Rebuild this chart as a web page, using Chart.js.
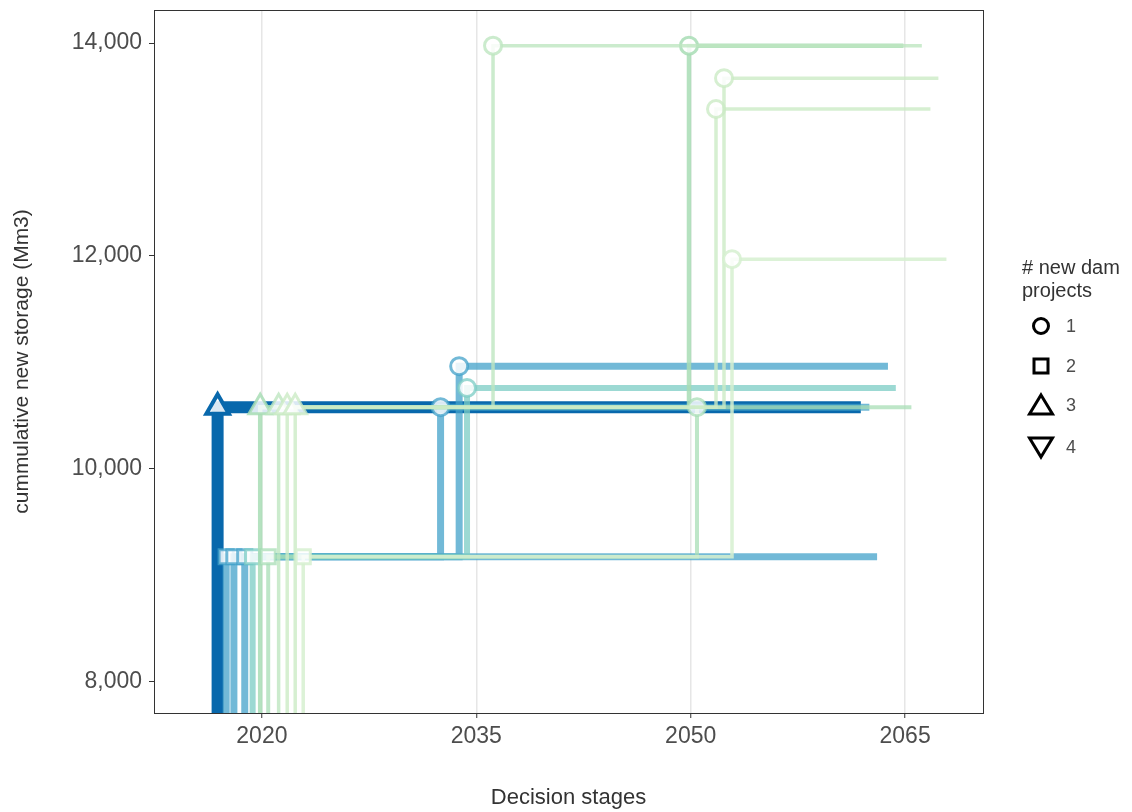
<!DOCTYPE html>
<html>
<head>
<meta charset="utf-8">
<script src="https://cdn.jsdelivr.net/npm/chart.js@4/dist/chart.umd.min.js"></script>
<style>
  html, body { margin: 0; padding: 0; background: #ffffff; }
  #wrap { width: 1132px; height: 812px; }
</style>
</head>
<body>
<div id="wrap"><canvas id="stagesChart" width="1132" height="812"></canvas></div>
<script>
// Decision stages and tick labels
const stages = [2020, 2035, 2050, 2065];
const xTicks = [2020, 2035, 2050, 2065];
const yTicks = [8000, 10000, 12000, 14000];

// Storage before the first stage (off the bottom of the axis)
const startStorage = 7000;

// One entry per pathway: shift along the stage axis (years)
const pathShift = [-3.1, -2.5, -1.96, -1.2, -0.65, -0.12, 0.44, 1.17, 1.77, 2.33, 2.89];

// Cumulative new storage (Mm3) reached at stages 2020, 2035, 2050
const pathStorage = [
    [10580, 10580, 10580],
    [9175, 10580, 10580],
    [9175, 9175, 9175],
    [9175, 10965, 10965],
    [9175, 10760, 10760],
    [10580, 10580, 13975],
    [9175, 9175, 10580],
    [10580, 13975, 13975],
    [10580, 10580, 13380],
    [10580, 10580, 13670],
    [9175, 9175, 11970]
];

// Number of new dam projects built at stages 2020, 2035, 2050
const pathNewDams = [
    [3, 0, 0],
    [2, 1, 0],
    [2, 0, 0],
    [2, 1, 0],
    [2, 1, 0],
    [3, 0, 1],
    [2, 0, 1],
    [3, 1, 0],
    [3, 0, 1],
    [3, 0, 1],
    [2, 0, 1]
];

// Legend entries
const damCounts = ['1', '2', '3', '4'];

// Line styles per pathway
const pathColors = [
    '#0868ac',
    'rgba(67,162,202,0.75)',
    'rgba(67,162,202,0.75)',
    'rgba(67,162,202,0.75)',
    'rgba(123,204,196,0.75)',
    'rgba(168,221,181,0.85)',
    'rgba(168,221,181,0.75)',
    'rgba(190,230,192,0.8)',
    'rgba(204,235,197,0.8)',
    'rgba(204,235,197,0.8)',
    'rgba(214,240,208,0.85)'
];
const pathWidths = [12, 7, 7, 7, 6, 4.5, 4, 3.5, 3.5, 3.5, 3.5];

const FONT = '"Liberation Sans", Arial, sans-serif';
const markerStyle = { 1: 'circle', 2: 'rect', 3: 'triangle', 4: 'triangle' };
const markerRadius = { 1: 8.5, 2: 10, 3: 13, 4: 13 };

// Turn a pathway into step points (horizontal then vertical)
function buildPath(p) {
    const shift = pathShift[p];
    const vals = pathStorage[p];
    const dams = pathNewDams[p];
    const pts = [{ x: stages[0] + shift, y: startStorage, dams: 0 }];
    let prev = startStorage;
    for (let i = 0; i < vals.length; i++) {
        if (dams[i] > 0) {
            if (i > 0) pts.push({ x: stages[i] + shift, y: prev, dams: 0 });
            pts.push({ x: stages[i] + shift, y: vals[i], dams: dams[i] });
        }
        prev = vals[i];
    }
    pts.push({ x: stages[stages.length - 1] + shift, y: prev, dams: 0 });
    return pts;
}

const datasets = pathStorage.map((_, p) => {
    const pts = buildPath(p);
    return {
        data: pts,
        showLine: true,
        order: pathStorage.length - p,
        clip: 0,
        borderColor: pathColors[p],
        borderWidth: pathWidths[p],
        borderCapStyle: 'butt',
        borderJoinStyle: 'miter',
        pointBorderColor: pathColors[p],
        pointBackgroundColor: 'rgba(255,255,255,0.85)',
        pointBorderWidth: p === 0 ? 4 : 3,
        pointRadius: ctx => pts[ctx.dataIndex] && pts[ctx.dataIndex].dams ? markerRadius[pts[ctx.dataIndex].dams] : 0,
        pointStyle: ctx => pts[ctx.dataIndex] && pts[ctx.dataIndex].dams ? markerStyle[pts[ctx.dataIndex].dams] : 'circle',
        pointRotation: ctx => pts[ctx.dataIndex] && pts[ctx.dataIndex].dams === 4 ? 180 : 0
    };
});

// Panel border around the plotting area
const panelBox = {
    id: 'panelBox',
    afterDatasetsDraw(chart) {
        const { ctx, chartArea: a } = chart;
        ctx.save();
        ctx.strokeStyle = '#333333';
        ctx.lineWidth = 1;
        ctx.strokeRect(a.left + 0.5, a.top + 0.5, a.right - a.left, a.bottom - a.top);
        ctx.restore();
    }
};

// Shape legend on the right
const shapeLegend = {
    id: 'shapeLegend',
    afterDraw(chart) {
        const ctx = chart.ctx;
        ctx.save();
        ctx.fillStyle = '#333333';
        ctx.font = '20px ' + FONT;
        ctx.textAlign = 'left';
        ctx.textBaseline = 'middle';
        ctx.fillText('# new dam', 1022, 268);
        ctx.fillText('projects', 1022, 291);

        const rows = [326, 366, 405, 447];
        const cx = 1041;
        ctx.strokeStyle = '#000000';
        ctx.lineWidth = 3;
        ctx.lineJoin = 'miter';
        damCounts.forEach((label, i) => {
            const cy = rows[i];
            ctx.beginPath();
            if (i === 0) {
                ctx.arc(cx, cy, 7.5, 0, Math.PI * 2);
            } else if (i === 1) {
                ctx.rect(cx - 7, cy - 7, 14, 14);
            } else if (i === 2) {
                ctx.moveTo(cx, cy - 10);
                ctx.lineTo(cx + 11.5, cy + 9);
                ctx.lineTo(cx - 11.5, cy + 9);
                ctx.closePath();
            } else {
                ctx.moveTo(cx, cy + 10);
                ctx.lineTo(cx + 11.5, cy - 9);
                ctx.lineTo(cx - 11.5, cy - 9);
                ctx.closePath();
            }
            ctx.stroke();
            ctx.fillStyle = '#4d4d4d';
            ctx.font = '18px ' + FONT;
            ctx.fillText(label, 1066, cy + 1);
        });
        ctx.restore();
    }
};

new Chart(document.getElementById('stagesChart'), {
    type: 'scatter',
    data: { datasets: datasets },
    options: {
        responsive: false,
        animation: false,
        events: [],
        layout: { padding: { top: 10, right: 149, bottom: 0, left: 0 } },
        plugins: {
            legend: { display: false },
            tooltip: { enabled: false }
        },
        scales: {
            x: {
                type: 'linear',
                min: 2012.45,
                max: 2070.45,
                afterBuildTicks: scale => { scale.ticks = xTicks.map(v => ({ value: v })); },
                afterFit: scale => { scale.height = 99; scale.paddingLeft = 0; scale.paddingRight = 0; },
                border: { display: false },
                grid: {
                    color: '#e6e6e6',
                    lineWidth: 1.5,
                    drawTicks: true,
                    tickLength: 5,
                    tickColor: '#333333',
                    tickWidth: 1
                },
                ticks: {
                    font: { family: FONT, size: 23 },
                    color: '#4d4d4d',
                    padding: 5,
                    maxRotation: 0,
                    callback: v => String(v)
                },
                title: {
                    display: true,
                    text: 'Decision stages',
                    font: { family: FONT, size: 22 },
                    color: '#333333',
                    padding: { top: 0, bottom: 1 }
                }
            },
            y: {
                type: 'linear',
                min: 7708,
                max: 14310,
                afterBuildTicks: scale => { scale.ticks = yTicks.map(v => ({ value: v })); },
                afterFit: scale => { scale.width = 154; scale.paddingTop = 0; scale.paddingBottom = 0; },
                border: { display: false },
                grid: {
                    drawOnChartArea: false,
                    drawTicks: true,
                    tickLength: 5,
                    tickColor: '#333333',
                    tickWidth: 1
                },
                ticks: {
                    font: { family: FONT, size: 23 },
                    color: '#4d4d4d',
                    padding: 7,
                    callback: v => v.toLocaleString('en-US')
                },
                title: {
                    display: true,
                    text: 'cummulative new storage (Mm3)',
                    font: { family: FONT, size: 21 },
                    color: '#333333',
                    padding: { top: 10, bottom: 0 }
                }
            }
        }
    },
    plugins: [panelBox, shapeLegend]
});
</script>
</body>
</html>
